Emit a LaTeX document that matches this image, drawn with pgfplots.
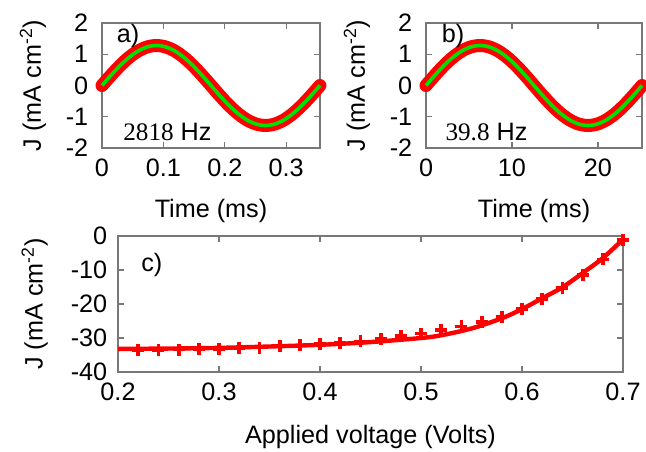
\documentclass[border=0pt]{standalone}
\usepackage{fontspec}
\setmainfont{Liberation Sans}
\newfontfamily\seriffont{Liberation Serif}
\usepackage{pgfplots}
\pgfplotsset{compat=1.18}
\definecolor{myred}{RGB}{255,0,0}
\definecolor{mygreen}{RGB}{0,225,0}
\definecolor{axgray}{RGB}{120,120,120}
\pgfplotsset{
  every axis/.append style={
    scale only axis,
    axis line style={axgray, line width=0.6pt},
    tick style={axgray, line width=0.6pt},
    major tick length=3pt,
    /pgf/number format/assume math mode=true,
    ticklabel style={font=\fontsize{12.6}{14}\selectfont},
    label style={font=\fontsize{12.6}{14}\selectfont},
    clip=false,
  },
  sinax/.style={
    width=109pt, height=62.5pt,
    ymin=-2, ymax=2, ytick={-2,-1,0,1,2},
    anchor=south west,
    ylabel={J (mA cm\textsuperscript{-2})},
    xlabel={Time (ms)},
    ylabel style={at={(axis description cs:-0.317,0.5)}, anchor=center, rotate=0},
    xlabel style={at={(axis description cs:0.5,-0.5)}, anchor=center},
    yticklabel style={xshift=-2.5pt},
    xticklabel style={yshift=-1pt},
  },
  redband/.style={myred, line width=6.5pt, line cap=round, smooth},
  greenline/.style={mygreen, line width=1.8pt, smooth},
}
\begin{document}
\fontsize{12.6}{14}\selectfont
\begin{tikzpicture}
\useasboundingbox (0,0) rectangle (323pt,225.5pt);
% ---------- panel a ----------
\begin{axis}[sinax, at={(51pt,151.5pt)}, xmin=0, xmax=0.355, xtick={0,0.1,0.2,0.3}]
\addplot[redband] coordinates {
(0,0) (0.0148,0.331) (0.0296,0.640) (0.0444,0.905) (0.0592,1.108) (0.0739,1.236)
(0.0887,1.28) (0.1035,1.236) (0.1183,1.108) (0.1331,0.905) (0.1479,0.640) (0.1627,0.331)
(0.1775,0) (0.1922,-0.331) (0.2070,-0.640) (0.2218,-0.905) (0.2366,-1.108) (0.2514,-1.236)
(0.2662,-1.28) (0.2810,-1.236) (0.2958,-1.108) (0.3105,-0.905) (0.3253,-0.640) (0.3401,-0.331)
(0.3549,0)};
\addplot[greenline] coordinates {
(0,0) (0.0148,0.331) (0.0296,0.640) (0.0444,0.905) (0.0592,1.108) (0.0739,1.236)
(0.0887,1.28) (0.1035,1.236) (0.1183,1.108) (0.1331,0.905) (0.1479,0.640) (0.1627,0.331)
(0.1775,0) (0.1922,-0.331) (0.2070,-0.640) (0.2218,-0.905) (0.2366,-1.108) (0.2514,-1.236)
(0.2662,-1.28) (0.2810,-1.236) (0.2958,-1.108) (0.3105,-0.905) (0.3253,-0.640) (0.3401,-0.331)
(0.3549,0)};
\node at (axis description cs:0.12,0.9) {a)};
\node at (axis description cs:0.30,0.13) {{\seriffont 2818} Hz};
\end{axis}
% ---------- panel b ----------
\begin{axis}[sinax, at={(213pt,151.5pt)}, width=108pt, xmin=0, xmax=25.13, xtick={0,10,20},
  ylabel style={at={(axis description cs:-0.32,0.5)}}]
\addplot[redband] coordinates {
(0,0) (1.047,0.331) (2.094,0.640) (3.141,0.905) (4.188,1.108) (5.235,1.236)
(6.282,1.28) (7.329,1.236) (8.376,1.108) (9.424,0.905) (10.471,0.640) (11.518,0.331)
(12.565,0) (13.612,-0.331) (14.659,-0.640) (15.706,-0.905) (16.753,-1.108) (17.800,-1.236)
(18.847,-1.28) (19.894,-1.236) (20.941,-1.108) (21.988,-0.905) (23.035,-0.640) (24.082,-0.331)
(25.13,0)};
\addplot[greenline] coordinates {
(0,0) (1.047,0.331) (2.094,0.640) (3.141,0.905) (4.188,1.108) (5.235,1.236)
(6.282,1.28) (7.329,1.236) (8.376,1.108) (9.424,0.905) (10.471,0.640) (11.518,0.331)
(12.565,0) (13.612,-0.331) (14.659,-0.640) (15.706,-0.905) (16.753,-1.108) (17.800,-1.236)
(18.847,-1.28) (19.894,-1.236) (20.941,-1.108) (21.988,-0.905) (23.035,-0.640) (24.082,-0.331)
(25.13,0)};
\node at (axis description cs:0.125,0.9) {b)};
\node at (axis description cs:0.28,0.13) {{\seriffont 39.8} Hz};
\end{axis}
% ---------- panel c ----------
\begin{axis}[at={(59pt,39.5pt)}, anchor=south west, width=252.5pt, height=68pt,
  xmin=0.2, xmax=0.7, xtick={0.2,0.3,0.4,0.5,0.6,0.7},
  ymin=-40, ymax=0, ytick={-40,-30,-20,-10,0},
  ylabel={J (mA cm\textsuperscript{-2})},
  xlabel={Applied voltage (Volts)},
  ylabel style={at={(axis description cs:-0.165,0.5)}, anchor=center},
  xlabel style={at={(axis description cs:0.5,-0.48)}, anchor=center},
  yticklabel style={xshift=-1pt},
  xticklabel style={yshift=-1pt}]
\addplot[myred, line width=2.2pt, smooth] coordinates {
(0.20,-33.2) (0.25,-33.1) (0.30,-32.9) (0.35,-32.5) (0.40,-32.0) (0.45,-31.2)
(0.50,-30.0) (0.52,-29.2) (0.55,-27.2) (0.58,-24.2) (0.60,-21.5) (0.62,-18.3)
(0.64,-15.1) (0.66,-10.9) (0.68,-6.5) (0.70,-1.0)};
\addplot[myred, only marks, mark=+, mark size=3pt, line width=1.9pt] coordinates {
(0.22,-33.5) (0.24,-33.5) (0.26,-33.4) (0.28,-33.3) (0.30,-33.2) (0.32,-33.0)
(0.34,-32.8) (0.36,-32.4) (0.38,-32.2) (0.40,-31.8) (0.42,-31.5) (0.44,-31.0)
(0.46,-30.4) (0.48,-29.4) (0.50,-28.7) (0.52,-27.6) (0.54,-26.6) (0.56,-25.2)
(0.58,-23.7) (0.60,-21.4) (0.62,-18.5) (0.64,-15.3) (0.66,-11.4) (0.68,-6.9)
(0.70,-1.2)};
\node at (axis description cs:0.067,0.79) {c)};
\end{axis}
\end{tikzpicture}
\end{document}
